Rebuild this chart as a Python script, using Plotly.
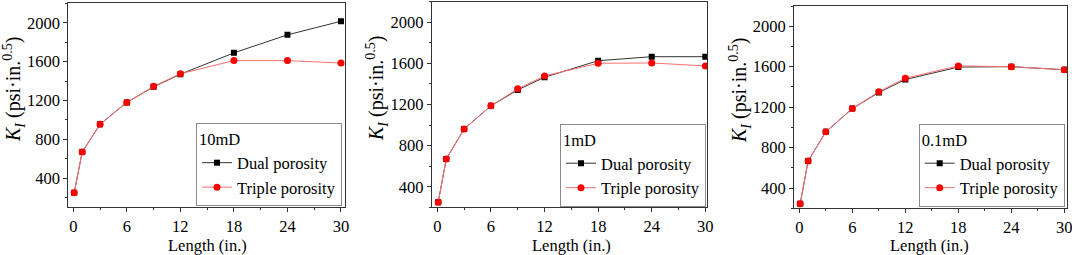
import plotly.graph_objects as go

# Data
length = [0.1, 1, 3, 6, 9, 12, 18, 24, 30]
dual_10mD = [250, 670, 955, 1180, 1340, 1470, 1690, 1875, 2015]
triple_10mD = [250, 670, 955, 1180, 1345, 1475, 1610, 1610, 1585]
dual_1mD = [250, 670, 962, 1187, 1342, 1465, 1626, 1665, 1665]
triple_1mD = [250, 670, 962, 1187, 1352, 1478, 1601, 1604, 1575]
dual_01mD = [245, 668, 956, 1186, 1345, 1473, 1596, 1600, 1570]
triple_01mD = [245, 668, 956, 1186, 1352, 1486, 1608, 1600, 1570]
panel_labels = ["10mD", "1mD", "0.1mD"]
x_ticks = [0, 6, 12, 18, 24, 30]
y_ticks = [400, 800, 1200, 1600, 2000]

W, H = 1072, 255
FONT = "Liberation Serif, Times New Roman, serif"
FS = 16.5

panels = [
    dict(dual=dual_10mD, triple=triple_10mD, xd=(68.3, 345), yd=(3.3, 207.3),
         xr=[-0.56, 30.45], yr=[100, 2200], leg=(342, 206), ytit=(14, 90), xtit=(207, 245)),
    dict(dual=dual_1mD, triple=triple_1mD, xd=(431.7, 707.3), yd=(1.7, 207.3),
         xr=[-0.63, 30.22], yr=[200, 2200], leg=(706, 206.5), ytit=(377, 89), xtit=(571, 245)),
    dict(dual=dual_01mD, triple=triple_01mD, xd=(794, 1067), yd=(6, 208.3),
         xr=[-0.6, 30.3], yr=[200, 2200], leg=(1064.7, 206.5), ytit=(740, 91), xtit=(929, 245)),
]

fig = go.Figure()
layout = dict(
    width=W, height=H, margin=dict(l=0, r=0, t=0, b=0, autoexpand=False),
    paper_bgcolor="white", plot_bgcolor="white",
    font=dict(family=FONT, size=FS, color="black"),
    annotations=[],
)

for i, p in enumerate(panels):
    n = "" if i == 0 else str(i + 1)
    xa, ya = "x" + n, "y" + n
    legname = "legend" + n
    fig.add_trace(go.Scatter(
        x=length, y=p["dual"], mode="lines+markers", name="Dual porosity",
        line=dict(color="#333333", width=1),
        marker=dict(symbol="square", size=6, color="black"),
        xaxis=xa, yaxis=ya, legend=legname))
    fig.add_trace(go.Scatter(
        x=length, y=p["triple"], mode="lines+markers", name="Triple porosity",
        line=dict(color="#ff6f6f", width=1),
        marker=dict(symbol="circle", size=7, color="#ff0000"),
        xaxis=xa, yaxis=ya, legend=legname))
    axcommon = dict(showgrid=False, zeroline=False, showline=True, linecolor="#333333",
                    linewidth=1, mirror=True, ticks="outside", ticklen=4, tickwidth=1,
                    tickcolor="#333333", automargin=False, ticklabeloverflow="allow",
                    tickfont=dict(family=FONT, size=FS, color="black"))
    layout["xaxis" + n] = dict(
        domain=[p["xd"][0] / W, p["xd"][1] / W], range=p["xr"], anchor=ya,
        tickvals=x_ticks, minor=dict(tickvals=[3, 9, 15, 21, 27], ticklen=2, ticks="outside",
                                     tickcolor="#333333"),
        **axcommon)
    layout["yaxis" + n] = dict(
        domain=[1 - p["yd"][1] / H, 1 - p["yd"][0] / H], range=p["yr"], anchor=xa,
        tickvals=y_ticks, minor=dict(tickvals=[200, 600, 1000, 1400, 1800, 2200], ticklen=2,
                                     ticks="outside", tickcolor="#333333"),
        **axcommon)
    layout[legname] = dict(
        x=p["leg"][0] / W, y=1 - p["leg"][1] / H, xanchor="right", yanchor="bottom",
        bordercolor="#8a8a8a", borderwidth=1, bgcolor="white",
        title=dict(text=panel_labels[i], font=dict(family=FONT, size=FS)),
        font=dict(family=FONT, size=FS), tracegroupgap=0, itemwidth=30)
    layout["annotations"].append(dict(
        text="<i>K</i><sub><i>I</i></sub> (psi·in.<sup>0.5</sup>)", textangle=-90,
        x=p["ytit"][0] / W, y=1 - p["ytit"][1] / H, xref="paper", yref="paper",
        xanchor="center", yanchor="middle", showarrow=False,
        font=dict(family=FONT, size=20, color="black")))
    layout["annotations"].append(dict(
        text="Length (in.)",
        x=p["xtit"][0] / W, y=1 - p["xtit"][1] / H, xref="paper", yref="paper",
        xanchor="center", yanchor="middle", showarrow=False,
        font=dict(family=FONT, size=FS, color="black")))

fig.update_layout(**layout)
fig.write_html("out.html", config={"displayModeBar": False},
               post_script="document.body.style.margin='0';document.body.style.padding='0';")
